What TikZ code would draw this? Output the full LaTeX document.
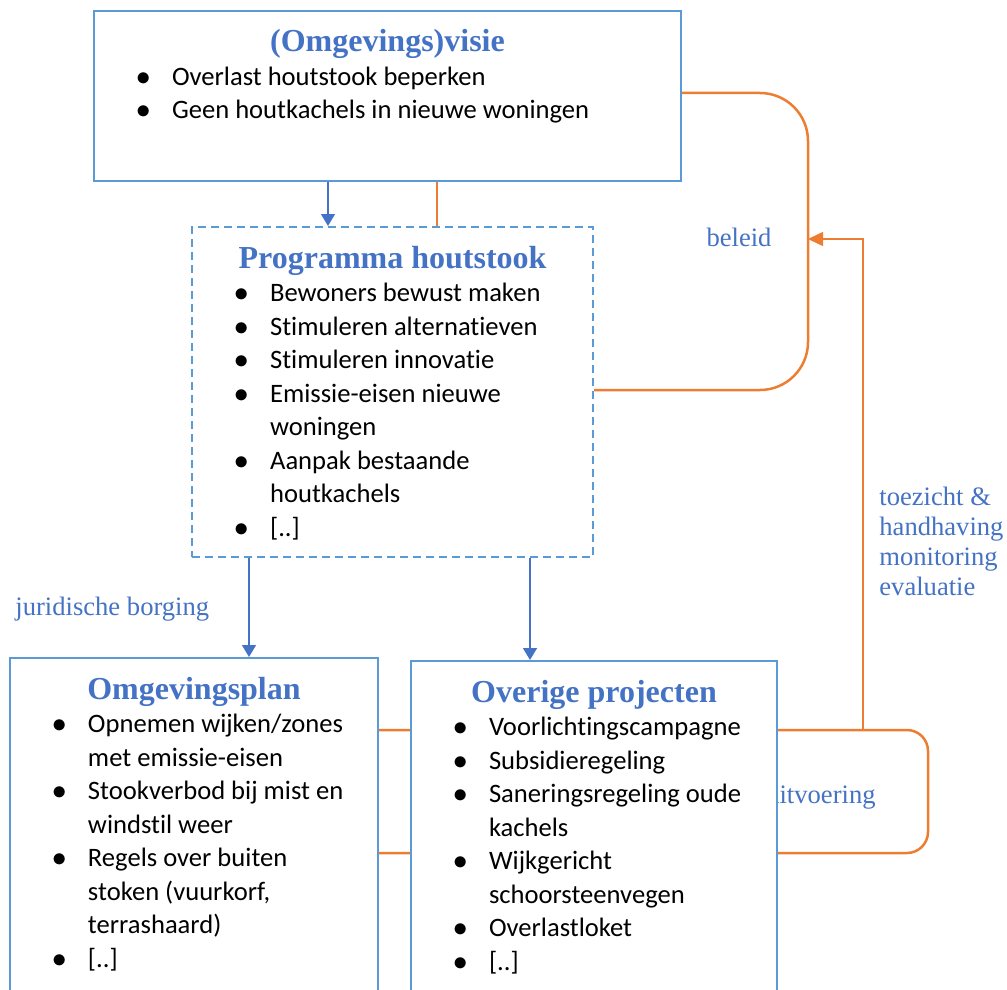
\documentclass[tikz,border=0pt]{standalone}
\usepackage{fontspec}
\setmainfont{Liberation Serif}
\newfontfamily\calibri[Ligatures=NoCommon]{Carlito}
\usetikzlibrary{arrows.meta}
\definecolor{rand}{RGB}{91,155,213}
\definecolor{kopblauw}{RGB}{68,114,196}
\definecolor{oranje}{RGB}{237,125,49}

\newcommand{\kop}[1]{\noindent\centering\rule{0pt}{20.5pt}{\rmfamily\bfseries\fontsize{16}{18}\selectfont\color{kopblauw}#1}\par}
\newcommand{\punt}[1]{\par\raggedright\noindent\hangindent=39pt\hangafter=1\hbox to 39pt{\hspace{21pt}$\bullet$\hss}#1}
\newcommand{\blokinhoud}[3]{\parbox[t][#2][t]{#1}{\calibri\fontsize{13.3}{16.75}\selectfont#3}}

\begin{document}
\begin{tikzpicture}[x=0.5pt, y=-0.5pt]
    \tikzstyle{blok} = [rectangle, draw=rand, line width=1pt, fill=white, inner sep=0pt, anchor=north west];
    \tikzstyle{stippelblok} = [blok, line width=1.1pt, dash pattern=on 4pt off 2.5pt];
    \tikzstyle{tekst} = [inner sep=0pt, text=kopblauw, font=\fontsize{13.3}{15}\selectfont];
    \tikzstyle{pijl} = [draw=kopblauw, line width=0.75pt, -{Triangle[width=7pt,length=6pt]}];
    \tikzstyle{lijn} = [draw=oranje, line width=1.25pt];
    \tikzstyle{terug} = [draw=oranje, line width=0.75pt, -{Triangle[width=7pt,length=7.5pt]}];

    \useasboundingbox (0,0) rectangle (1007,990);
    \clip (0,0) rectangle (1007,990);

    % Bovenste blokken
    \node [blok] (visie) at (93,10) {\blokinhoud{293.5pt}{85pt}{%
      \kop{(Omgevings)visie}
      \punt{Overlast houtstook beperken}
      \punt{Geen houtkachels in nieuwe woningen}}};
    \node [stippelblok] (programma) at (191,226) {\blokinhoud{200.5pt}{165pt}{%
      \kop{Programma houtstook}
      \punt{Bewoners bewust maken}
      \punt{Stimuleren alternatieven}
      \punt{Stimuleren innovatie}
      \punt{Emissie-eisen nieuwe\newline woningen}
      \punt{Aanpak bestaande\newline houtkachels}
      \punt{[..]}}};
    \node [blok] (plan) at (9,657) {\blokinhoud{184pt}{172.5pt}{%
      \kop{Omgevingsplan}
      \punt{Opnemen wijken/zones\newline met emissie-eisen}
      \punt{Stookverbod bij mist en\newline windstil weer}
      \punt{Regels over buiten\newline stoken (vuurkorf,\newline terrashaard)}
      \punt{[..]}}};

    % uitvoering (achter het rechter blok)
    \draw [lijn, rounded corners=10.5pt] (plan.east |- 0,730) -- (928,730) -- (928,853) -- (plan.east |- 0,853);
    \node [tekst, anchor=base east] (uitvoering) at (876,803) {uitvoering};

    \node [blok] (overig) at (410,660) {\blokinhoud{183pt}{170pt}{%
      \kop{Overige projecten}
      \punt{Voorlichtingscampagne}
      \punt{Subsidieregeling}
      \punt{Saneringsregeling oude\newline kachels}
      \punt{Wijkgericht\newline schoorsteenvegen}
      \punt{Overlastloket}
      \punt{[..]}}};

    % beleid
    \draw [lijn, rounded corners=24pt] (visie.east |- 0,93) -- (808,93) -- (808,390) -- (programma.east |- 0,390);
    \draw [lijn, line width=1pt] (visie.south -| 437,0) -- (programma.north -| 437,0);
    \node [tekst, anchor=base] (beleid) at (739,246) {beleid};

    % terugkoppeling
    \coordinate (splitsing) at (863,730);
    \coordinate (beleidpunt) at (808,239);
    \draw [terug] (splitsing) |- (beleidpunt);
    \node [tekst, anchor=north west, align=left] (toezicht) at (879,487) {toezicht \&\\handhaving\\monitoring\\evaluatie};

    % pijlen
    \draw [pijl] (visie.south -| 328,0) -- (programma.north -| 328,0);
    \draw [pijl] (programma.south -| 249,0) -- (plan.north -| 249,0);
    \draw [pijl] (programma.south -| 530,0) -- (overig.north -| 530,0);
    \node [tekst, anchor=base west] (borging) at (15,615) {juridische borging};
\end{tikzpicture}
\end{document}
